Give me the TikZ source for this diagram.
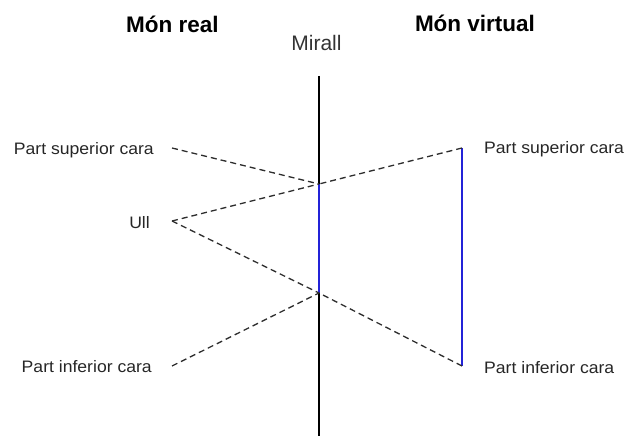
\documentclass[tikz,border=0pt]{standalone}
\usepackage{fontspec}
\setmainfont{Liberation Sans}
\newfontfamily\lblfont{Liberation Sans}[FakeStretch=1.06]
\definecolor{mirblue}{RGB}{35,35,215}
\definecolor{dashgray}{RGB}{45,45,45}
\begin{document}
\begin{tikzpicture}[x=1pt,y=-1pt,
  lbl/.style={inner sep=0pt,font=\lblfont\fontsize{16.6}{18}\selectfont,text=black!85},
  ttl/.style={inner sep=0pt,font=\bfseries\fontsize{22.5}{26}\selectfont,anchor=base},
  ray/.style={dashgray,line width=1.3pt,dash pattern=on 6pt off 4pt},
  mirrorline/.style={black,line width=2pt},
  imgline/.style={mirblue,line width=2.3pt}]
\useasboundingbox (0,0) rectangle (624,436);
% titles
\node[ttl] (real) at (172.5,33) {Món real};
\node[ttl] (virt) at (475,32) {Món virtual};
\node[inner sep=0pt,anchor=base,font=\fontsize{21}{24}\selectfont,text=black!80] (mirall) at (316.5,51) {Mirall};
% points
\coordinate (mtop) at (319,76);
\coordinate (mbot) at (319,436);
\coordinate (mu) at (319,184);
\coordinate (md) at (319,293);
\coordinate (eye) at (172,221);
\coordinate (ls) at (172,148);
\coordinate (li) at (172,366);
\coordinate (vt) at (462,148);
\coordinate (vb) at (462,366);
% labels
\node[lbl,anchor=base east] (lsup) at (154,154) {Part superior cara};
\node[lbl,anchor=base east] (ull) at (150,228) {Ull};
\node[lbl,anchor=base east] (linf) at (152,372) {Part inferior cara};
\node[lbl,anchor=base west] (rsup) at (484,153) {Part superior cara};
\node[lbl,anchor=base west] (rinf) at (484,373) {Part inferior cara};
% mirror
\draw[mirrorline] (mtop) -- (mbot);
\draw[imgline] (mu) -- (md);
% virtual face
\draw[imgline] (vt) -- (vb);
% rays
\draw[ray] (ls) -- (mu);
\draw[ray] (eye) -- (mu);
\draw[ray] (vt) -- (mu);
\draw[ray] (li) -- (md);
\draw[ray] (eye) -- (md);
\draw[ray] (vb) -- (md);
\end{tikzpicture}
\end{document}
